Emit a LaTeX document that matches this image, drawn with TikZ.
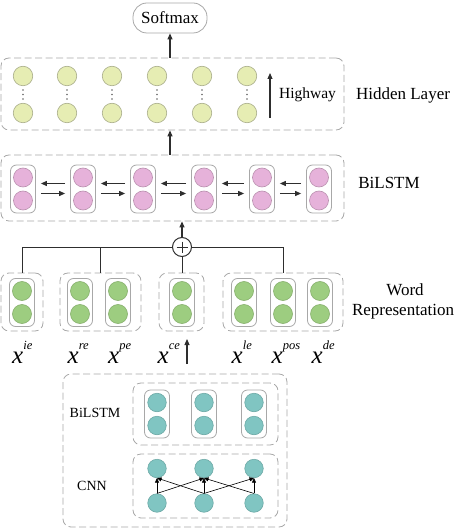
\documentclass[tikz,border=0pt]{standalone}
\usepackage{fontspec}
\setmainfont{Liberation Serif}
\usetikzlibrary{arrows.meta,calc}
\definecolor{yelf}{HTML}{E6EDB3}
\definecolor{yeld}{HTML}{A9AD8A}
\definecolor{pinkf}{HTML}{E6B2DA}
\definecolor{pinkd}{HTML}{B990AE}
\definecolor{grnf}{HTML}{9DCD80}
\definecolor{grnd}{HTML}{86AF6C}
\definecolor{tealf}{HTML}{80C5C2}
\definecolor{teald}{HTML}{6DA9A6}
\definecolor{boxg}{HTML}{A8A8A8}
\definecolor{linec}{HTML}{2E2E2E}
\newcommand\mkcell[4]{%
  \node[cellbox] (#1) at (#2,#3) {};
  \node[#4] (#1a) at (#2,#3-11.5) {};
  \node[#4] (#1b) at (#2,#3+11.5) {};
}
\newcommand\xlab[4]{%
  \node[anchor=base west, inner sep=0] (#1) at (#2,363) {{\fontsize{25}{25}\selectfont\itshape x}\raisebox{#4pt}{\fontsize{12.5}{12.5}\selectfont\itshape #3}};
}
\begin{document}
\begin{tikzpicture}[x=1pt,y=-1pt,
  grp/.style={draw=boxg, dash pattern=on 7pt off 3.5pt, rounded corners=8pt, line width=0.8pt, inner sep=0},
  cellbox/.style={draw=boxg, fill=white, rounded corners=6pt, minimum width=25pt, minimum height=48pt, line width=0.8pt, inner sep=0},
  ycirc/.style={circle, draw=yeld, fill=yelf, minimum size=19.5pt, inner sep=0, line width=0.6pt},
  pcirc/.style={circle, draw=pinkd, fill=pinkf, minimum size=19pt, inner sep=0, line width=0.6pt},
  gcirc/.style={circle, draw=grnd, fill=grnf, minimum size=19pt, inner sep=0, line width=0.6pt},
  tcirc/.style={circle, draw=teald, fill=tealf, minimum size=18.5pt, inner sep=0, line width=0.6pt},
  arr/.style={draw=linec, line width=1.1pt, -{Triangle[length=6pt,width=5pt]}},
  thinarr/.style={draw=black, line width=0.6pt, -{Triangle[length=4.5pt,width=4pt]}},
  ln/.style={draw=linec, line width=1pt},
  lab/.style={inner sep=0, font=\fontsize{17}{19}\selectfont},
  slab/.style={inner sep=0, font=\fontsize{14}{16}\selectfont}
]
\useasboundingbox (0,0) rectangle (457,529);

% Softmax
\node[draw=boxg, line width=0.8pt, rounded corners=14pt, minimum width=74pt, minimum height=30pt, inner sep=0, font=\fontsize{17}{19}\selectfont] (soft) at (170,18) {Softmax};

% Hidden layer
\node[grp, minimum width=343pt, minimum height=72pt] (hid) at (172.5,94) {};
\foreach \x [count=\i] in {23,67,112,157,202,247} {
  \node[ycirc] (hu\i) at (\x,76) {};
  \node[ycirc] (hd\i) at (\x,113) {};
  \fill[gray!80!black] (\x,90) circle (0.8pt) (\x,94.5) circle (0.8pt) (\x,99) circle (0.8pt);
}
\coordinate (hw1) at (270,118);
\coordinate (hw2) at (270,73);
\draw[arr] (hw1) -- (hw2);
\node[inner sep=0, font=\fontsize{15.5}{17}\selectfont] (hwl) at (307.5,95) {Highway};
\node[lab] (hidl) at (403,95) {Hidden Layer};

% BiLSTM
\node[grp, minimum width=343pt, minimum height=66pt] (bil) at (172.5,188) {};
\mkcell{b1}{23}{189}{pcirc}
\mkcell{b2}{83}{189}{pcirc}
\mkcell{b3}{143}{189}{pcirc}
\mkcell{b4}{204}{189}{pcirc}
\mkcell{b5}{262}{189}{pcirc}
\mkcell{b6}{319}{189}{pcirc}
\foreach \a/\b in {b1/b2,b2/b3,b3/b4,b4/b5,b5/b6} {
  \draw[arr] ($(\b.west)+(-5,-5.5)$) -- ($(\a.east)+(5,-5.5)$);
  \draw[arr] ($(\a.east)+(5,4.5)$) -- ($(\b.west)+(-5,4.5)$);
}
\node[lab] (bill) at (389,183) {BiLSTM};

\draw[arr] (soft.south |- hid.north) -- (soft.south);
\draw[arr] (soft.south |- bil.north) -- (soft.south |- hid.south);

% Plus
\node[circle, draw=linec, fill=white, line width=1pt, minimum size=19pt, inner sep=0] (plus) at (182,247) {};
\draw[ln] ($(plus.center)+(-5.5,0)$) -- ($(plus.center)+(5.5,0)$);
\draw[ln] ($(plus.center)+(0,-5.5)$) -- ($(plus.center)+(0,5.5)$);
\draw[arr] (plus.north) -- (plus.north |- bil.south);

% Word representation groups
\node[grp, minimum width=42pt, minimum height=58pt] (g1) at (22,302) {};
\node[grp, minimum width=81pt, minimum height=58pt] (g2) at (100.5,302) {};
\node[grp, minimum width=45pt, minimum height=58pt] (g3) at (181.5,302) {};
\node[grp, minimum width=120pt, minimum height=58pt] (g4) at (283,302) {};
\mkcell{w1}{22}{302.5}{gcirc}
\mkcell{w2}{80}{302.5}{gcirc}
\mkcell{w3}{118}{302.5}{gcirc}
\mkcell{w4}{182}{302.5}{gcirc}
\mkcell{w5}{244}{302.5}{gcirc}
\mkcell{w6}{283}{302.5}{gcirc}
\mkcell{w7}{320}{302.5}{gcirc}
\draw[ln] (g1.north) |- (plus.west);
\draw[ln] (g4.north) |- (plus.east);
\draw[ln] (g2.north) -- (g2.north |- plus.center);
\draw[ln] (plus.south) -- (plus.south |- g3.north);
\node[lab] (wr1) at (405,290) {Word};
\node[lab] (wr2) at (403,312) {Representation};

% x labels
\xlab{xie}{12}{ie}{14}
\xlab{xre}{67.5}{re}{14}
\xlab{xpe}{108}{pe}{14}
\xlab{xce}{157.5}{ce}{14}
\xlab{xle}{231.5}{le}{14}
\xlab{xpos}{271.5}{pos}{14}
\xlab{xde}{311.5}{de}{14}
\coordinate (ain) at (187,364);
\coordinate (aout) at (187,339);
\draw[arr] (ain) -- (aout);

% Character-level module
\node[grp, minimum width=224pt, minimum height=153pt] (outer) at (175,450.5) {};
\node[grp, minimum width=145pt, minimum height=62pt] (ib) at (205.5,414) {};
\node[grp, minimum width=145pt, minimum height=64pt] (cnn) at (205.5,486) {};
\mkcell{c1}{157}{414}{tcirc}
\mkcell{c2}{204}{414}{tcirc}
\mkcell{c3}{254}{414}{tcirc}
\node[slab] (ibl) at (95,413) {BiLSTM};
\node[slab] (cnnl) at (92,486) {CNN};
\foreach \x [count=\i] in {157,204,254} {
  \node[tcirc] (nt\i) at (\x,468.5) {};
  \node[tcirc] (nb\i) at (\x,503) {};
}
\draw[thinarr] (nb1.north) -- (nt1.south);
\draw[thinarr] (nb1.north) -- (nt2.south);
\draw[thinarr] (nb2.north) -- (nt1.south);
\draw[thinarr] (nb2.north) -- (nt2.south);
\draw[thinarr] (nb2.north) -- (nt3.south);
\draw[thinarr] (nb3.north) -- (nt2.south);
\draw[thinarr] (nb3.north) -- (nt3.south);
\end{tikzpicture}
\end{document}
